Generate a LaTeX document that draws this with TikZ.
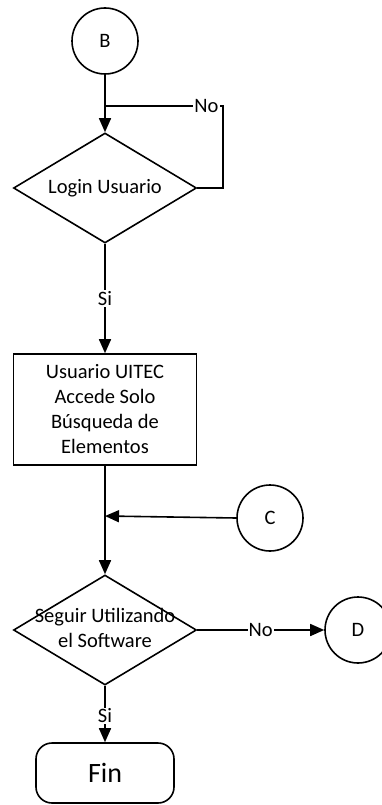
\documentclass[tikz,border=0pt]{standalone}
\usepackage{fontspec}
\setmainfont{Carlito}
\usetikzlibrary{shapes.geometric,arrows.meta}
\begin{document}
\begin{tikzpicture}[x=1pt,y=-1pt,
  line width=1.6pt,
  every node/.style={font=\fontsize{20.5}{25}\selectfont},
  conn/.style={draw, circle, minimum size=66pt, inner sep=0pt},
  decision/.style={draw, diamond, minimum width=183pt, minimum height=110pt, inner sep=0pt},
  process/.style={draw, rectangle, minimum width=183pt, minimum height=111pt, inner sep=0pt, align=center},
  terminal/.style={draw, rectangle, rounded corners=16pt, minimum width=138pt, minimum height=60pt, inner sep=0pt, font=\fontsize{28}{30}\selectfont},
  flow/.style={-{Triangle[length=14pt,width=12pt]}},
  lbl/.style={fill=white, inner sep=1pt}]
\useasboundingbox (0,0) rectangle (382,805);
\clip (0,0) rectangle (382,805);

% nodes
\node[conn] (B) at (105,41) {B};
\node[decision] (login) at (105,188) {};
\node (logintxt) at (login) {Login Usuario};
\node[process] (acc) at (105,409.5) {Usuario UITEC\\Accede Solo\\Búsqueda de\\Elementos};
\node[conn] (C) at (270,518) {C};
\node[decision] (seguir) at (105,630) {};
\node[align=center] (seguirtxt) at (105,628) {Seguir Utilizando\\el Software};
\node[conn] (D) at (358,630) {D};
\node[terminal] (fin) at (105,773) {Fin};

\coordinate (loopin) at (105,106);
\coordinate (cin) at (105,516);

% connectors
\draw[flow] (B) -- (login.north);
\draw (login.east) -- (223,188) -- (223,106) -- node[lbl, pos=0.14] {No} (loopin);
\draw[flow] (login.south) -- node[lbl, midway] {Si} (acc.north);
\draw[flow] (acc.south) -- (seguir.north);
\draw[flow] (C.west) -- (cin);
\draw[flow] (seguir.east) -- node[lbl, midway] {No} (D.west);
\draw[flow] (seguir.south) -- node[lbl, pos=0.53] {Si} (fin.north);
\end{tikzpicture}
\end{document}
